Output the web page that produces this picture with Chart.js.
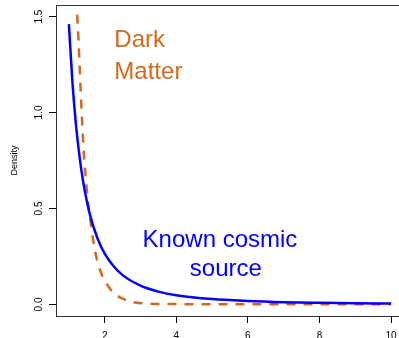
<!DOCTYPE html>
<html>
<head>
<meta charset="utf-8">
<script src="https://cdn.jsdelivr.net/npm/chart.js@4"></script>
<style>
  html, body { margin: 0; padding: 0; background: #fff; overflow: hidden; }
  #wrap { width: 399px; height: 338px; overflow: hidden; position: relative; }
  #densityChart { display: block; }
</style>
</head>
<body>
<div id="wrap"><canvas id="densityChart" width="410" height="338"></canvas></div>
<script>
// known cosmic source (solid blue)
const knownX = [1, 1.1, 1.2, 1.3, 1.4, 1.5, 1.6, 1.8, 2, 2.25, 2.5, 3, 3.5, 4, 5, 6, 7, 8, 9, 10];
const knownY = [1.46, 1.155, 0.932, 0.766, 0.638, 0.539, 0.459, 0.344, 0.265, 0.199, 0.153, 0.098, 0.067, 0.048, 0.028, 0.018, 0.012, 0.0088, 0.0066, 0.0051];
// dark matter (dashed orange)
const darkX = [1.23, 1.27, 1.34, 1.41, 1.51, 1.62, 1.74, 1.93, 2.1, 2.25, 2.5, 2.81, 3.2, 4, 5, 6, 7, 8, 9, 10];
const darkY = [1.51, 1.37, 1.07, 0.81, 0.58, 0.41, 0.27, 0.15, 0.095, 0.06, 0.03, 0.012, 0.005, 0.002, 0.001, 0.001, 0.001, 0.001, 0.001, 0.001];
const xTicks = [2, 4, 6, 8, 10];
const yTicks = [0, 0.5, 1, 1.5];

const blue = '#0000ff';
const orange = '#d2691e';

function pts(xs, ys){ return xs.map((x,i)=>({x:x, y:ys[i]})); }

const labels = [
  { lines: [{t:'Dark', x:2.27, y:1.339}, {t:'Matter', x:2.27, y:1.177}], color: orange, align: 'left' },
  { lines: [{t:'Known cosmic', x:5.22, y:0.297}, {t:'source', x:5.385, y:0.149}], color: blue, align: 'center' }
];

const framePlugin = {
  id: 'frame',
  afterDraw(chart){
    const ctx = chart.ctx, a = chart.chartArea;
    const xs = chart.scales.x, ys = chart.scales.y;
    ctx.save();
    ctx.strokeStyle = '#333';
    ctx.lineWidth = 1;
    const l = Math.round(a.left)+0.5, t = Math.round(a.top)+0.5, b = Math.round(a.bottom)+0.5, r = Math.round(a.right)+0.5;
    ctx.strokeRect(l, t, r-l, b-t);
    // y tick labels, parallel to axis like R
    ctx.fillStyle = '#000';
    ctx.font = '10px "Liberation Sans", Arial, sans-serif';
    ctx.textAlign = 'center';
    ctx.textBaseline = 'alphabetic';
    yTicks.forEach(v=>{
      const py = ys.getPixelForValue(v);
      ctx.save();
      ctx.translate(42, py);
      ctx.rotate(-Math.PI/2);
      ctx.fillText(v.toFixed(1), 0, 0);
      ctx.restore();
    });
    // text annotations
    ctx.font = '24px "Liberation Sans", Arial, sans-serif';
    labels.forEach(lb=>{
      ctx.fillStyle = lb.color;
      ctx.textAlign = lb.align;
      lb.lines.forEach(s=>{
        ctx.fillText(s.t, xs.getPixelForValue(s.x), ys.getPixelForValue(s.y));
      });
    });
    ctx.restore();
  }
};

new Chart(document.getElementById('densityChart'), {
  type: 'line',
  data: {
    datasets: [
      { label: 'Known cosmic source', data: pts(knownX, knownY), borderColor: blue, borderWidth: 2.5,
        pointRadius: 0, fill: false, cubicInterpolationMode: 'monotone' },
      { label: 'Dark Matter', data: pts(darkX, darkY), borderColor: orange, borderWidth: 2.5, borderDash: [9, 8],
        pointRadius: 0, fill: false, cubicInterpolationMode: 'monotone' }
    ]
  },
  options: {
    responsive: false,
    animation: false,
    layout: { padding: { left: 0, top: 5, right: 6, bottom: 0 } },
    plugins: { legend: { display: false }, tooltip: { enabled: false } },
    scales: {
      x: {
        type: 'linear', min: 0.64, max: 10.36,
        afterBuildTicks: s => { s.ticks = xTicks.map(v=>({value:v})); },
        afterFit: s => { s.height = 22; s.paddingLeft = 0; s.paddingRight = 0; },
        grid: { drawOnChartArea: false, drawTicks: true, tickLength: 7, color: '#000' },
        border: { display: false },
        ticks: { color: '#000', padding: 7.5, maxRotation: 0, font: { size: 10, family: '"Liberation Sans", Arial, sans-serif' } }
      },
      y: {
        type: 'linear', min: -0.06, max: 1.56,
        afterBuildTicks: s => { s.ticks = yTicks.map(v=>({value:v})); },
        afterFit: s => { s.width = 56; s.paddingTop = 0; s.paddingBottom = 0; },
        grid: { drawOnChartArea: false, drawTicks: true, tickLength: 7, color: '#000' },
        border: { display: false },
        ticks: { display: false },
        title: { display: true, text: 'Density', color: '#000', padding: { top: 9, bottom: 0 },
          font: { size: 9, family: '"Liberation Sans", Arial, sans-serif' } }
      }
    }
  },
  plugins: [framePlugin]
});
</script>
</body>
</html>
